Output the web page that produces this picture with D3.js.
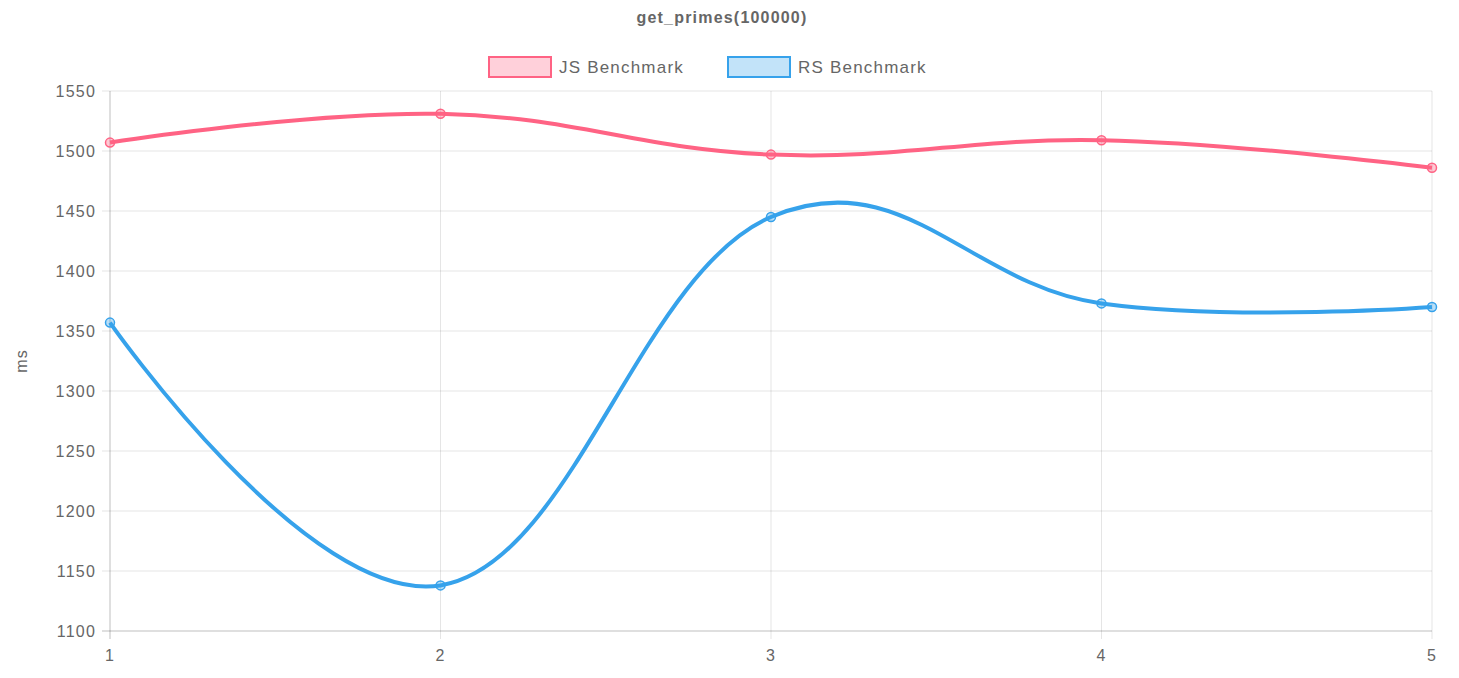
<!DOCTYPE html>
<html lang="en">
<head>
<meta charset="UTF-8">
<title>get_primes(100000)</title>
<script src="https://d3js.org/d3.v7.min.js"></script>
<style>
  body { margin: 0; background: #fff; }
  text { font-family: "Liberation Sans", Arial, sans-serif; fill: #666; letter-spacing: 1.2px; }
</style>
</head>
<body>
<svg width="1459" height="678"></svg>
<script>
const runs = [1, 2, 3, 4, 5];
const jsTimes = [1507, 1531, 1497, 1509, 1486];
const rsTimes = [1357, 1138, 1445, 1373, 1370];
const yTicks = [1100, 1150, 1200, 1250, 1300, 1350, 1400, 1450, 1500, 1550];

const series = [
    { name: "JS Benchmark", values: jsTimes, stroke: "rgb(255,99,132)", fill: "rgba(255,99,132,0.3)" },
    { name: "RS Benchmark", values: rsTimes, stroke: "rgb(54,162,235)", fill: "rgba(54,162,235,0.3)" }
];

const svg = d3.select("svg");
const plotLeft = 110, plotRight = 1432, plotTop = 91, plotBottom = 631;

const x = d3.scaleLinear().domain([1, 5]).range([plotLeft, plotRight]);
const y = d3.scaleLinear().domain([1100, 1550]).range([plotBottom, plotTop]);

// grid
svg.append("g").selectAll("line").data(yTicks).enter().append("line")
    .attr("x1", plotLeft - 8).attr("x2", plotRight).attr("y1", d => y(d)).attr("y2", d => y(d))
    .attr("stroke", d => d === 1100 ? "rgba(0,0,0,0.25)" : "rgba(0,0,0,0.1)");
svg.append("g").selectAll("line").data(runs).enter().append("line")
    .attr("y1", plotTop).attr("y2", plotBottom + 8).attr("x1", d => x(d)).attr("x2", d => x(d))
    .attr("stroke", d => d === 1 ? "rgba(0,0,0,0.25)" : "rgba(0,0,0,0.1)");

// tick labels
svg.append("g").selectAll("text").data(yTicks).enter().append("text")
    .attr("x", plotLeft - 14).attr("y", d => y(d)).attr("dy", "0.35em")
    .attr("text-anchor", "end").attr("font-size", 16).text(d => d);
svg.append("g").selectAll("text").data(runs).enter().append("text")
    .attr("x", d => x(d)).attr("y", plotBottom + 30)
    .attr("text-anchor", "middle").attr("font-size", 16).text(d => d);

svg.append("text").attr("transform", `translate(27,${(plotTop + plotBottom) / 2}) rotate(-90)`)
    .attr("text-anchor", "middle").attr("font-size", 16).text("ms");

svg.append("text").attr("x", 722).attr("y", 23).attr("text-anchor", "middle")
    .attr("font-size", 16).attr("font-weight", "bold").text("get_primes(100000)");

// legend
const legendX = [489, 728];
series.forEach((s, i) => {
    svg.append("rect").attr("x", legendX[i]).attr("y", 57).attr("width", 62).attr("height", 20)
        .attr("fill", s.fill).attr("stroke", s.stroke).attr("stroke-width", 2);
    svg.append("text").attr("x", legendX[i] + 70).attr("y", 73).attr("font-size", 17).text(s.name);
});

// lines
const line = d3.line().x((d, i) => x(runs[i])).y(d => y(d)).curve(d3.curveCardinal.tension(-0.2));
series.forEach(s => {
    svg.append("path").attr("d", line(s.values)).attr("fill", "none")
        .attr("stroke", s.stroke).attr("stroke-width", 4);
    svg.append("g").selectAll("circle").data(s.values).enter().append("circle")
        .attr("cx", (d, i) => x(runs[i])).attr("cy", d => y(d)).attr("r", 4.5)
        .attr("fill", s.fill.replace("0.3", "0.35")).attr("stroke", s.stroke).attr("stroke-width", 1.5);
});
</script>
</body>
</html>
